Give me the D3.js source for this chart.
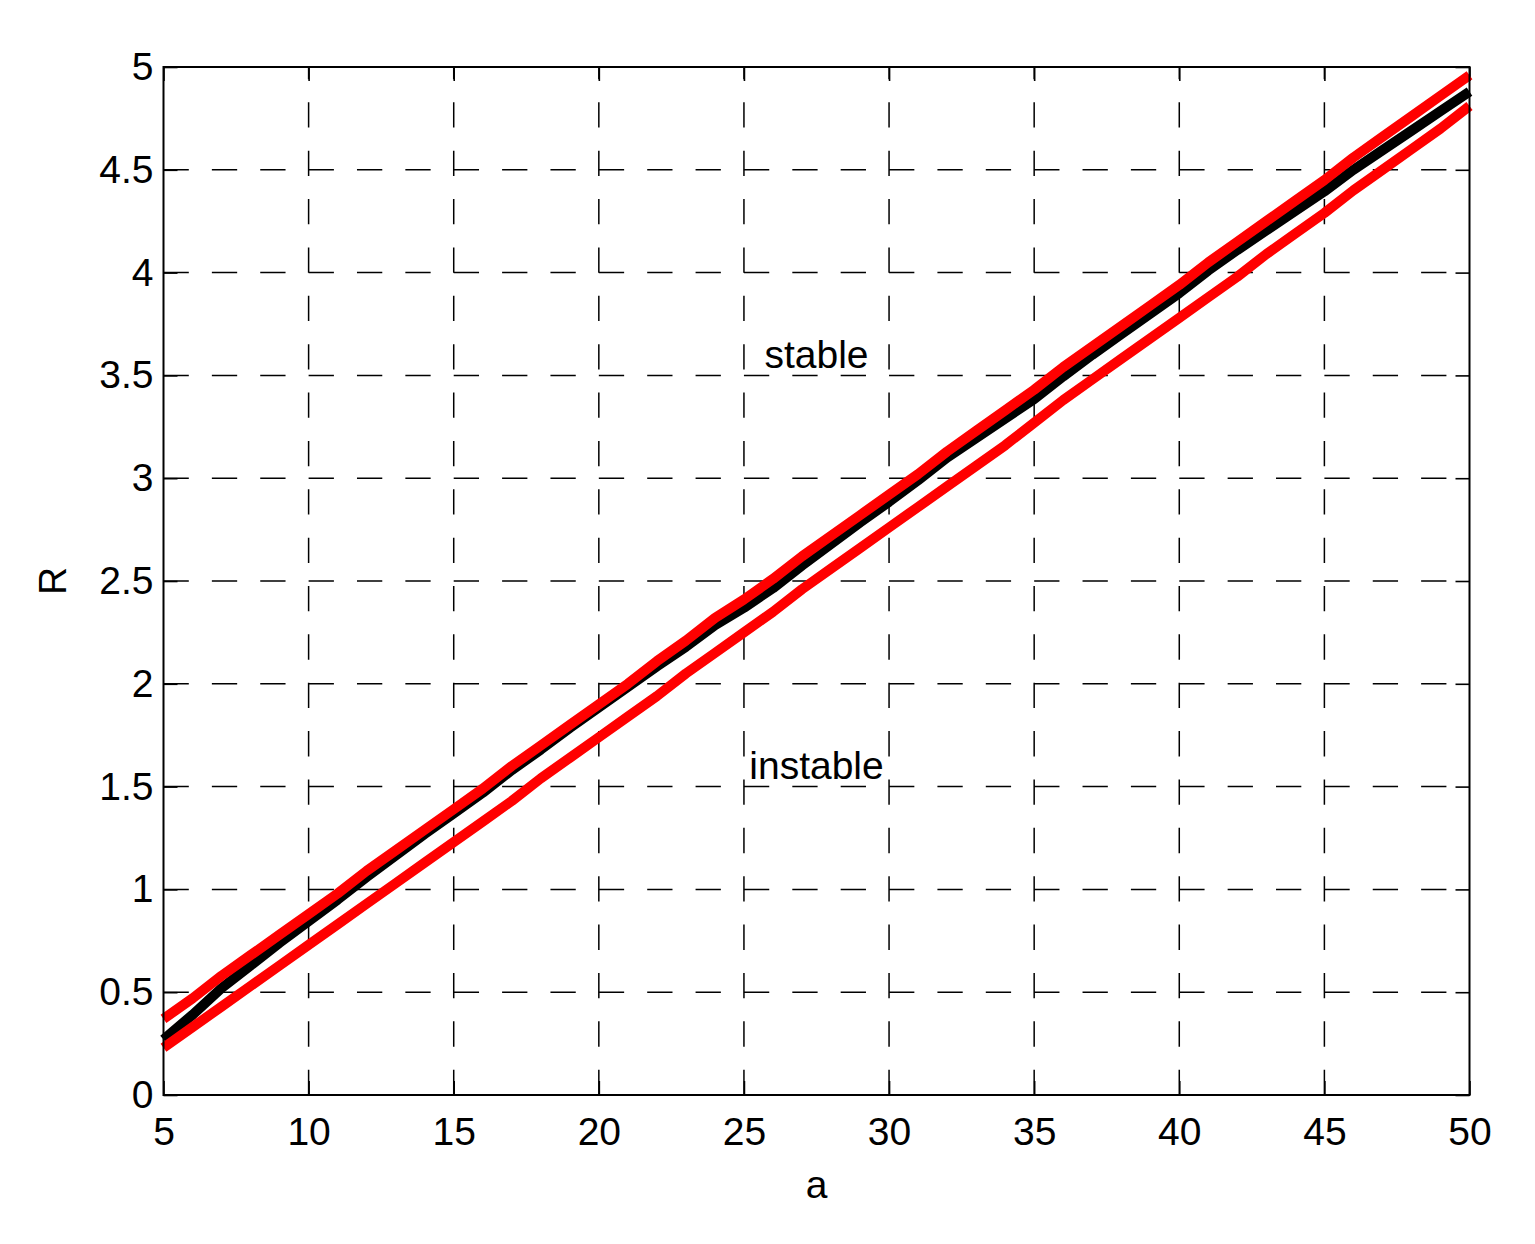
<!DOCTYPE html>
<html>
<head>
<meta charset="utf-8">
<script src="https://cdn.jsdelivr.net/npm/d3@7"></script>
<style>
  html, body { margin: 0; padding: 0; background: #fff; }
  svg { display: block; }
  text { font-family: "Liberation Sans", Arial, Helvetica, sans-serif; fill: #000; }
</style>
</head>
<body>
<script>
// ---- data ----
const aValues = d3.range(5, 51); // a = 5..50
const rUpper = [0.37,0.47,0.58,0.68,0.78,0.88,0.98,1.09,1.19,1.29,1.39,1.49,1.60,1.70,1.80,1.90,2.00,2.11,2.21,2.32,2.41,2.51,2.62,2.72,2.82,2.92,3.02,3.13,3.23,3.33,3.43,3.54,3.64,3.74,3.84,3.94,4.05,4.15,4.25,4.35,4.45,4.56,4.66,4.76,4.86,4.96];
const rMid = [0.27,0.39,0.52,0.63,0.74,0.845,0.95,1.06,1.165,1.27,1.37,1.47,1.58,1.68,1.785,1.885,1.985,2.085,2.18,2.285,2.37,2.465,2.575,2.68,2.785,2.885,2.99,3.10,3.195,3.29,3.385,3.495,3.60,3.70,3.80,3.90,4.01,4.11,4.205,4.30,4.395,4.50,4.595,4.69,4.785,4.88];
const rLower = [0.23,0.33,0.43,0.53,0.63,0.73,0.83,0.93,1.03,1.13,1.23,1.33,1.43,1.54,1.64,1.74,1.84,1.94,2.05,2.15,2.25,2.35,2.46,2.56,2.66,2.76,2.86,2.96,3.06,3.16,3.27,3.38,3.48,3.58,3.68,3.78,3.88,3.98,4.09,4.19,4.29,4.40,4.50,4.60,4.70,4.81];
const xTicks = [5,10,15,20,25,30,35,40,45,50];
const yTicks = [0,0.5,1,1.5,2,2.5,3,3.5,4,4.5,5];
const yTickLabels = ["0","0.5","1","1.5","2","2.5","3","3.5","4","4.5","5"];
const annotations = [
  {text: "stable", a: 27.5, r: 3.5},
  {text: "instable", a: 27.5, r: 1.5}
];

// ---- layout ----
const W = 1535, H = 1244;
const L = 163.5, R = 1469.5, T = 67, B = 1095;

const svg = d3.select("body").append("svg").attr("width", W).attr("height", H);

const x = d3.scaleLinear().domain([5, 50]).range([L, R]);
const y = d3.scaleLinear().domain([0, 5]).range([B, T]);

// grid (dashes start at left / bottom edges)
const grid = svg.append("g").attr("stroke", "#000").attr("stroke-width", 1.5)
  .attr("stroke-dasharray", "25.3,23.07");
grid.selectAll("line.vg").data(xTicks.slice(1, -1)).enter().append("line")
  .attr("x1", d => x(d)).attr("x2", d => x(d)).attr("y1", B).attr("y2", T);
grid.selectAll("line.hg").data(yTicks.slice(1, -1)).enter().append("line")
  .attr("x1", L).attr("x2", R).attr("y1", d => y(d)).attr("y2", d => y(d));

// axes with inward ticks
const tickLen = 14;
const fs = 39;
const xAxisB = d3.axisBottom(x).tickValues(xTicks).tickSizeInner(-tickLen).tickSizeOuter(0).tickPadding(22);
const xAxisT = d3.axisTop(x).tickValues(xTicks).tickSizeInner(-tickLen).tickSizeOuter(0).tickFormat("");
const yAxisL = d3.axisLeft(y).tickValues(yTicks).tickSizeInner(-tickLen).tickSizeOuter(0).tickPadding(10)
  .tickFormat((d, i) => yTickLabels[i]);
const yAxisR = d3.axisRight(y).tickValues(yTicks).tickSizeInner(-tickLen).tickSizeOuter(0).tickFormat("");

function styleAxis(g) {
  g.selectAll("path").remove();
  g.selectAll("line").attr("stroke", "#000").attr("stroke-width", 1.6);
  g.selectAll("text").attr("font-size", fs).attr("font-family", '"Liberation Sans", Arial, sans-serif').attr("fill", "#000");
}
svg.append("g").attr("transform", `translate(0,${B})`).call(xAxisB).call(styleAxis);
svg.append("g").attr("transform", `translate(0,${T})`).call(xAxisT).call(styleAxis);
svg.append("g").attr("transform", `translate(${L},0)`).call(yAxisL).call(styleAxis);
svg.append("g").attr("transform", `translate(${R},0)`).call(yAxisR).call(styleAxis);

// lines
const line = d3.line().x((d, i) => x(aValues[i])).y(d => y(d)).curve(d3.curveLinear);
const plot = svg.append("g");
plot.append("path").datum(rMid).attr("d", line).attr("fill", "none")
  .attr("stroke", "#000").attr("stroke-width", 10).attr("stroke-linejoin", "round");
plot.append("path").datum(rLower).attr("d", line).attr("fill", "none")
  .attr("stroke", "#ff0000").attr("stroke-width", 10).attr("stroke-linejoin", "round");
plot.append("path").datum(rUpper).attr("d", line).attr("fill", "none")
  .attr("stroke", "#ff0000").attr("stroke-width", 10).attr("stroke-linejoin", "round");

// frame
svg.append("rect").attr("x", L).attr("y", T).attr("width", R - L).attr("height", B - T)
  .attr("fill", "none").attr("stroke", "#000").attr("stroke-width", 2);

// annotations
svg.selectAll("text.ann").data(annotations).enter().append("text")
  .attr("class", "ann")
  .attr("x", d => x(d.a)).attr("y", d => y(d.r))
  .attr("text-anchor", "middle").attr("dy", "-0.2em")
  .attr("font-size", fs).text(d => d.text);

// axis labels
svg.append("text").attr("x", (L + R) / 2).attr("y", 1198).attr("text-anchor", "middle")
  .attr("font-size", fs).text("a");
svg.append("text").attr("transform", `translate(66,${(T + B) / 2}) rotate(-90)`)
  .attr("text-anchor", "middle").attr("font-size", fs).text("R");
</script>
</body>
</html>
